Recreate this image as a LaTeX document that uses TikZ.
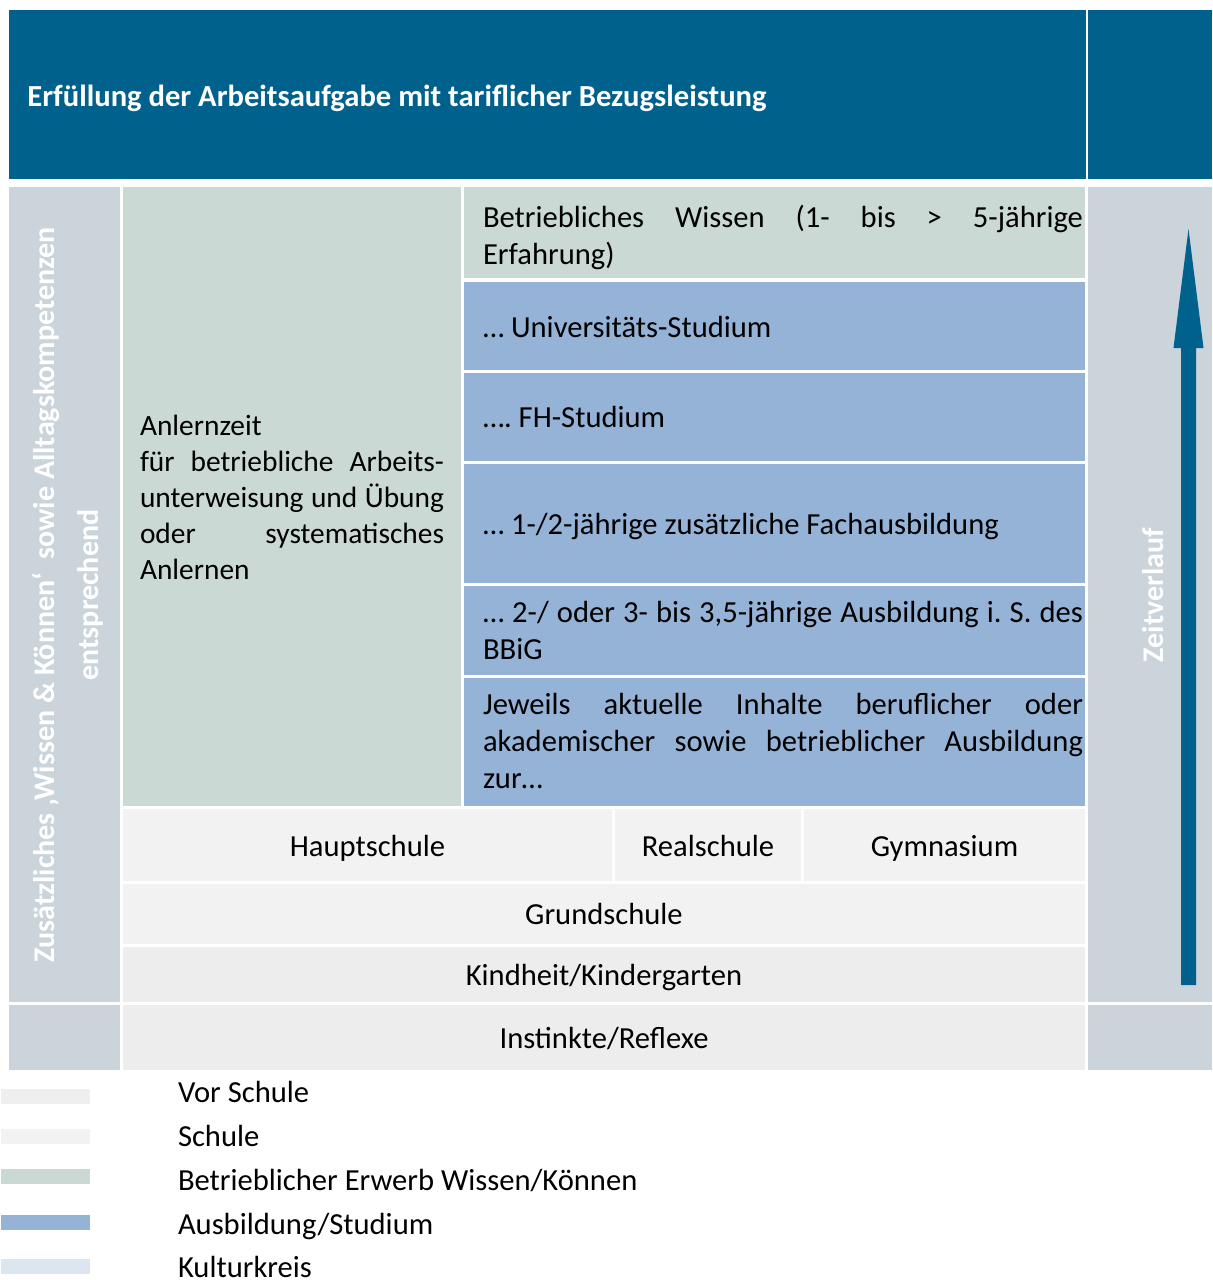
\documentclass[tikz,border=0pt]{standalone}
\usepackage{fontspec}
\setmainfont{Carlito}
\usetikzlibrary{fit,calc}
\definecolor{dblue}{HTML}{00618C}
\definecolor{sideg}{HTML}{CBD3DB}
\definecolor{betrg}{HTML}{CAD9D3}
\definecolor{ausb}{HTML}{95B3D7}
\definecolor{schul}{HTML}{F2F2F2}
\definecolor{vors}{HTML}{EDEDED}
\definecolor{vorsleg}{HTML}{EFEFEF}
\definecolor{kult}{HTML}{DCE6F1}
\frenchspacing
\begin{document}
\frenchspacing
\begin{tikzpicture}[x=0.5pt,y=-0.5pt,
  cell/.style={inner sep=0pt, outer sep=0pt, draw=none},
  txt/.style={font=\fontsize{15.3}{18.5}\selectfont, inner sep=0pt, outer sep=0pt, text=black},
  jtxt/.style={txt, align=justify, text width=300pt, anchor=west},
  ctxt/.style={txt, anchor=base},
  wtxt/.style={font=\bfseries\fontsize{15}{22}\selectfont, inner sep=0pt, text=white},
  legtxt/.style={txt, anchor=base west}]
\useasboundingbox (0,0) rectangle (1212,1280);
% top bar
\node[cell, fill=dblue, fit={(9,10)(1086,179)}] (title) {};
\node[cell, fill=dblue, fit={(1088,10)(1212,179)}] (titleR) {};
\node[font=\bfseries\fontsize{15.3}{18}\selectfont, text=white, inner sep=0pt, anchor=west] (titletxt) at ($(title.west)+(18,4)$) {Erfüllung der Arbeitsaufgabe mit tariflicher Bezugsleistung};
% side columns
\node[cell, fill=sideg, fit={(9,187)(120,1002)}] (sideL) {};
\node[cell, fill=sideg, fit={(9,1005)(120,1070)}] (sideLb) {};
\node[cell, fill=sideg, fit={(1088,187)(1212,1002)}] (sideR) {};
\node[cell, fill=sideg, fit={(1088,1005)(1212,1070)}] (sideRb) {};
% Anlernzeit
\node[cell, fill=betrg, fit={(123,187)(461,806)}] (anlern) {};
\node[jtxt, text width=152pt, font=\fontsize{14.7}{18}\selectfont] (anlerntxt) at ($(anlern.west)+(17,1)$) {Anlernzeit\\für betriebliche Arbeits-\linebreak unterweisung und Übung\linebreak oder systematisches\linebreak Anlernen};
% right stack
\node[cell, fill=betrg, fit={(464,187)(1085,278)}] (betr) {};
\node[cell, fill=ausb, fit={(464,282)(1085,370)}] (uni) {};
\node[cell, fill=ausb, fit={(464,373)(1085,461)}] (fh) {};
\node[cell, fill=ausb, fit={(464,464)(1085,583)}] (fach) {};
\node[cell, fill=ausb, fit={(464,586)(1085,675)}] (bbig) {};
\node[cell, fill=ausb, fit={(464,678)(1085,806)}] (jew) {};
\node[jtxt] (betrtxt) at ($(betr.west)+(19,5)$) {Betriebliches Wissen (1- bis > 5-jährige\linebreak Erfahrung)};
\node[jtxt] (unitxt) at ($(uni.west)+(19,1)$) {… Universitäts-Studium};
\node[jtxt] (fhtxt) at ($(fh.west)+(19,0)$) {…. FH-Studium};
\node[jtxt] (fachtxt) at ($(fach.west)+(19,3)$) {… 1-/2-jährige zusätzliche Fachausbildung};
\node[jtxt] (bbigtxt) at ($(bbig.west)+(19,0)$) {… 2-/ oder 3- bis 3,5-jährige Ausbildung i. S. des\linebreak BBiG};
\node[jtxt] (jewtxt) at ($(jew.west)+(19,-1)$) {Jeweils aktuelle Inhalte beruflicher oder\linebreak akademischer sowie betrieblicher Ausbildung\linebreak zur…};
% schools
\node[cell, fill=schul, fit={(123,809)(612,881)}] (haupt) {};
\node[cell, fill=schul, fit={(615,809)(801,881)}] (real) {};
\node[cell, fill=schul, fit={(804,809)(1085,881)}] (gym) {};
\node[cell, fill=schul, fit={(123,884)(1085,944)}] (grund) {};
\node[cell, fill=vors, fit={(123,947)(1085,1002)}] (kind) {};
\node[cell, fill=vors, fit={(123,1005)(1085,1070)}] (inst) {};
\node[ctxt] (hauptt) at (haupt.center |- 0,856) {Hauptschule};
\node[ctxt] (realt) at (real.center |- 0,856) {Realschule};
\node[ctxt] (gymt) at (gym.center |- 0,856) {Gymnasium};
\node[ctxt] (grundt) at (grund.center |- 0,924) {Grundschule};
\node[ctxt] (kindt) at (kind.center |- 0,985) {Kindheit/Kindergarten};
\node[ctxt] (instt) at (inst.center |- 0,1048) {Instinkte/Reflexe};
% rotated labels
\node[wtxt, rotate=90, align=center] (sidetxt) at (68,595) {Zusätzliches ‚Wissen \& Können‘\ \ sowie Alltagskompetenzen\\entsprechend};
\node[wtxt, rotate=90] (zeit) at (1153,595) {Zeitverlauf};
% arrow
\coordinate (arrS) at (1188.5,985);
\coordinate (arrE) at (1188.5,229);
\fill[dblue] ($(arrS)+(-7.5,0)$) -- ($(arrE)+(-7.5,119)$) -- ($(arrE)+(-15,119)$) -- (arrE) -- ($(arrE)+(15,119)$) -- ($(arrE)+(7.5,119)$) -- ($(arrS)+(7.5,0)$) -- cycle;
% legend
\node[cell, fill=vorsleg, fit={(1,1089)(90,1104)}] (leg1) {};
\node[cell, fill=schul, fit={(1,1129)(90,1144)}] (leg2) {};
\node[cell, fill=betrg, fit={(1,1169)(90,1184)}] (leg3) {};
\node[cell, fill=ausb, fit={(1,1215)(90,1230)}] (leg4) {};
\node[cell, fill=kult, fit={(1,1259)(90,1274)}] (leg5) {};
\node[legtxt] (l1) at (178,1102) {Vor Schule};
\node[legtxt] (l2) at (178,1146) {Schule};
\node[legtxt] (l3) at (178,1190) {Betrieblicher Erwerb Wissen/Können};
\node[legtxt] (l4) at (178,1234) {Ausbildung/Studium};
\node[legtxt] (l5) at (178,1277) {Kulturkreis};
\end{tikzpicture}
\end{document}
